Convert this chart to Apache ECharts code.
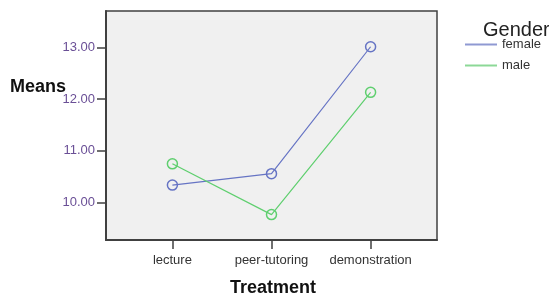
<!DOCTYPE html>
<html>
<head>
<meta charset="utf-8">
<script src="https://cdn.jsdelivr.net/npm/echarts@6/dist/echarts.min.js"></script>
<style>
  html, body { margin: 0; padding: 0; background: #fff; }
  #chart { width: 549px; height: 295px; }
</style>
</head>
<body>
<div id="chart"></div>
<script>
// data
var categories = ["lecture", "peer-tutoring", "demonstration"];
var female = [10.34, 10.56, 13.01];
var male = [10.75, 9.77, 12.13];
var yTicks = [10, 11, 12, 13];

var xPos = [1, 2, 3]; // category positions on the value axis

function pairs(vals) {
  return vals.map(function (v, i) { return [xPos[i], v]; });
}

var chart = echarts.init(document.getElementById("chart"));
chart.setOption({
  animation: false,
  textStyle: { fontFamily: "Liberation Sans, Arial, sans-serif" },
  grid: {
    left: 106,
    top: 11,
    right: 112,
    bottom: 55,
    show: true,
    backgroundColor: "#f0f0f0",
    borderColor: "#404040",
    borderWidth: 1.5
  },
  title: {
    text: "Gender",
    left: 483,
    top: 20,
    padding: 0,
    textStyle: { fontSize: 20, fontWeight: "normal", color: "#222" }
  },
  legend: {
    orient: "vertical",
    left: 465,
    top: 38,
    padding: 0,
    icon: "rect",
    itemWidth: 32,
    itemHeight: 2,
    itemGap: 8,
    textStyle: { fontSize: 13, color: "#333" },
    data: [
      { name: "female", itemStyle: { color: "#8f99d2", borderWidth: 0 } },
      { name: "male", itemStyle: { color: "#8cd897", borderWidth: 0 } }
    ]
  },
  graphic: [
    {
      type: "text",
      left: 10,
      top: 78,
      style: { text: "Means", font: "bold 18px Liberation Sans, Arial, sans-serif", fill: "#111" }
    },
    {
      type: "text",
      left: 230,
      top: 279,
      style: { text: "Treatment", font: "bold 18px Liberation Sans, Arial, sans-serif", fill: "#111" }
    }
  ],
  xAxis: {
    type: "value",
    min: 0.33,
    max: 3.67,
    splitLine: { show: false },
    axisLine: { show: true, onZero: false, lineStyle: { color: "#404040", width: 2 } },
    axisTick: { show: true, length: 9, customValues: xPos, lineStyle: { color: "#404040", width: 1.5 } },
    axisLabel: {
      customValues: xPos,
      margin: 14,
      fontSize: 13,
      color: "#333",
      formatter: function (v) { return categories[Math.round(v) - 1]; }
    }
  },
  yAxis: {
    type: "value",
    min: 9.28,
    max: 13.70,
    splitLine: { show: false },
    axisLine: { show: true, onZero: false, lineStyle: { color: "#404040", width: 2 } },
    axisTick: { show: true, length: 9, customValues: yTicks, lineStyle: { color: "#404040", width: 1.5 } },
    axisLabel: {
      customValues: yTicks,
      margin: 11,
      fontSize: 13,
      color: "#6a4f96",
      formatter: function (v) { return v.toFixed(2); }
    }
  },
  series: [
    {
      name: "female",
      type: "line",
      data: pairs(female),
      symbol: "circle",
      symbolSize: 10,
      itemStyle: { color: "rgba(0,0,0,0)", borderColor: "#6674c4", borderWidth: 1.5 },
      lineStyle: { color: "#6674c4", width: 1.2 }
    },
    {
      name: "male",
      type: "line",
      data: pairs(male),
      symbol: "circle",
      symbolSize: 10,
      itemStyle: { color: "rgba(0,0,0,0)", borderColor: "#5fcf6f", borderWidth: 1.5 },
      lineStyle: { color: "#5fcf6f", width: 1.2 }
    }
  ]
});
</script>
</body>
</html>
